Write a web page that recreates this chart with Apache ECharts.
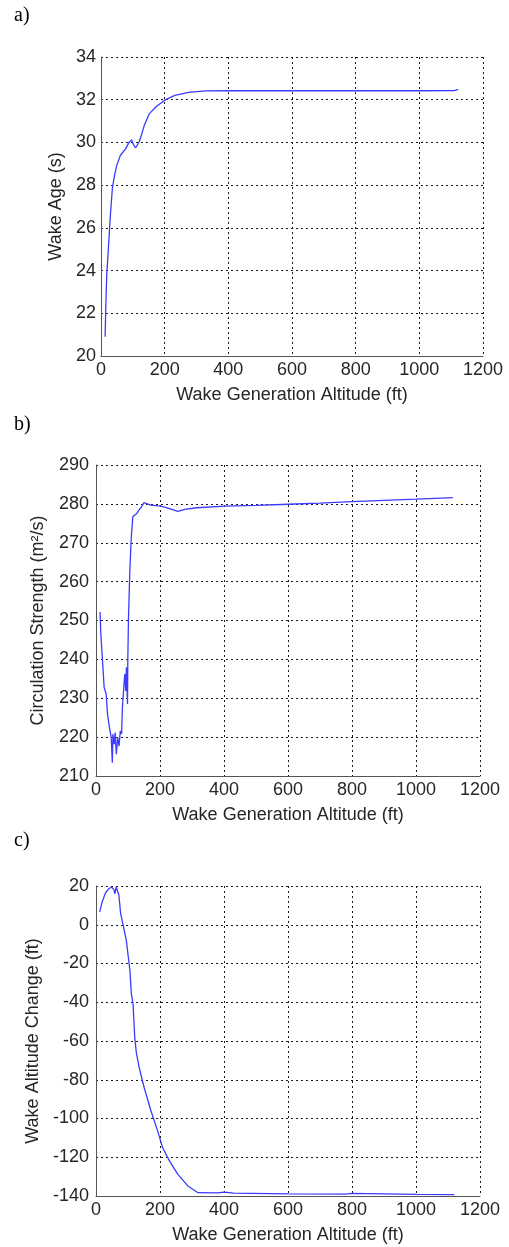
<!DOCTYPE html>
<html>
<head>
<meta charset="utf-8">
<style>
  html, body { margin: 0; padding: 0; background: #fff; }
  #container { width: 509px; height: 1247px; }
</style>
<script src="https://cdn.jsdelivr.net/npm/echarts@6/dist/echarts.min.js"></script>
</head>
<body>
<div id="container"></div>
<script>
var dom = document.getElementById('container');
var myChart = echarts.init(dom, null, { renderer: 'canvas' });

// a) wake age vs generation altitude
var ageAlt = [13, 15, 18, 23.5, 29, 36, 43, 50, 61, 77, 88, 96, 102, 109, 120, 127, 136, 152, 173, 200, 232, 275, 328, 400, 600, 800, 1000, 1110, 1122];
var ageVal = [20.9, 22.3, 23.8, 25.1, 26.5, 27.9, 28.5, 28.95, 29.4, 29.7, 30.0, 30.12, 29.9, 29.75, 30.03, 30.35, 30.8, 31.35, 31.67, 31.98, 32.2, 32.34, 32.41, 32.42, 32.42, 32.42, 32.42, 32.43, 32.48];

// b) circulation strength
var circAlt = [12.7, 14.8, 18, 21, 25.4, 31.7, 36, 42, 47.6, 51, 53, 57, 60, 63.5, 67.7, 72, 76, 80, 82.5, 86.8, 90, 93, 95, 98.4, 99.5, 101.6, 105.8, 110, 115, 127, 134, 141.8, 150, 171, 203, 229.6, 256, 277, 314, 404, 500, 600, 700, 800, 900, 1000, 1080, 1115];
var circVal = [252.2, 247, 242.7, 238.8, 232.8, 231.1, 225.9, 222.5, 219.9, 213.4, 220.8, 218.2, 221.2, 215.6, 219.9, 217.7, 221.6, 220.8, 227.6, 232.8, 236.2, 231.9, 238, 228.5, 240.5, 250.9, 262.9, 271.1, 276.7, 277.5, 278.4, 279.2, 280.3, 279.7, 279.4, 278.8, 278.1, 278.6, 279, 279.4, 279.6, 279.9, 280.2, 280.6, 280.9, 281.2, 281.5, 281.6];

// c) wake altitude change
var dzAlt = [11.6, 19, 29.5, 40, 48.4, 56, 59, 63, 66, 71.6, 77, 85, 94.7, 101, 106, 110.5, 115.8, 121, 126, 134.7, 150.5, 171.6, 192.6, 208, 229.5, 255.8, 287, 319, 380, 400, 405, 430, 600, 780, 800, 805, 1000, 1120];
var dzVal = [6.6, 11.7, 16.4, 18.6, 19.5, 18.1, 16, 19.5, 19.8, 15.2, 5.7, -0.3, -8.1, -16.7, -23.6, -35.7, -40.9, -58.1, -65.9, -73.6, -84, -96, -106.4, -115, -121.9, -128.8, -134.8, -138.3, -138.4, -138.0, -138.6, -138.5, -138.9, -139.0, -138.6, -139.2, -139.2, -139.3];

var xTicks = [0, 200, 400, 600, 800, 1000, 1200];
var panelLabels = ['a)', 'b)', 'c)'];
var yTitles = ['Wake Age (s)', 'Circulation Strength (m\u00b2/s)', 'Wake Altitude Change (ft)'];
var xTitle = 'Wake Generation Altitude (ft)';

function zip(xs, ys) {
    var out = [];
    for (var i = 0; i < xs.length; i++) out.push([xs[i], ys[i]]);
    return out;
}

var textColor = '#262626';
var font = 'Liberation Sans, Arial, sans-serif';

var gridLine = {
    show: true,
    lineStyle: { color: '#1a1a1a', type: [2, 3], width: 1 }
};

function xAxisOf(idx) {
    return {
        type: 'value',
        gridIndex: idx,
        min: xTicks[0],
        max: xTicks[xTicks.length - 1],
        interval: 200,
        name: xTitle,
        nameLocation: 'middle',
        nameGap: 30,
        nameTextStyle: { color: textColor, fontSize: 18, fontFamily: font },
        axisLine: { show: true, onZero: false, lineStyle: { color: '#555', width: 1 } },
        axisTick: { show: false },
        axisLabel: {
            color: textColor, fontSize: 18, fontFamily: font, margin: 5,
            formatter: function (v) { return String(v); }
        },
        splitLine: gridLine
    };
}

function yAxisOf(idx, min, max, step, gap, margin) {
    return {
        type: 'value',
        gridIndex: idx,
        min: min,
        max: max,
        interval: step,
        name: yTitles[idx],
        nameLocation: 'middle',
        nameGap: gap,
        nameTextStyle: { color: textColor, fontSize: 18, fontFamily: font },
        axisLine: { show: true, onZero: false, lineStyle: { color: '#555', width: 1 } },
        axisTick: { show: false },
        axisLabel: {
            color: textColor, fontSize: 18, fontFamily: font, margin: margin,
            formatter: function (v) { return String(v); }
        },
        splitLine: gridLine
    };
}

var lineStyle = { color: '#3b3bff', width: 1.3 };

var option = {
    animation: false,
    backgroundColor: '#fff',
    graphic: [
        { type: 'text', left: 14, top: 6, style: { text: panelLabels[0], font: '20px "Liberation Serif", "Times New Roman", serif', fill: '#000' } },
        { type: 'text', left: 14, top: 415, style: { text: panelLabels[1], font: '20px "Liberation Serif", "Times New Roman", serif', fill: '#000' } },
        { type: 'text', left: 14, top: 831, style: { text: panelLabels[2], font: '20px "Liberation Serif", "Times New Roman", serif', fill: '#000' } }
    ],
    grid: [
        { left: 101, top: 57, width: 382, height: 299 },
        { left: 96, top: 465, width: 384, height: 311 },
        { left: 96, top: 886, width: 384, height: 310 }
    ],
    xAxis: [xAxisOf(0), xAxisOf(1), xAxisOf(2)],
    yAxis: [
        yAxisOf(0, 20, 34, 2, 35, 5),
        yAxisOf(1, 210, 290, 10, 49, 7),
        yAxisOf(2, -140, 20, 20, 54, 7)
    ],
    series: [
        { type: 'line', xAxisIndex: 0, yAxisIndex: 0, data: zip(ageAlt, ageVal), showSymbol: false, lineStyle: lineStyle },
        { type: 'line', xAxisIndex: 1, yAxisIndex: 1, data: zip(circAlt, circVal), showSymbol: false, lineStyle: lineStyle },
        { type: 'line', xAxisIndex: 2, yAxisIndex: 2, data: zip(dzAlt, dzVal), showSymbol: false, lineStyle: lineStyle }
    ]
};

myChart.setOption(option);
window.addEventListener('resize', myChart.resize);
</script>
</body>
</html>
